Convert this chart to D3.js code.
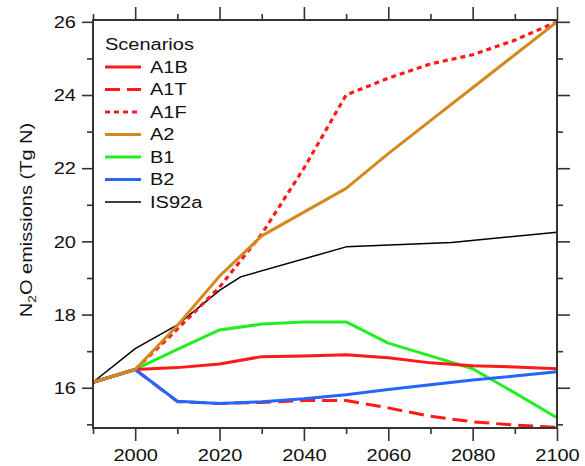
<!DOCTYPE html>
<html>
<head>
<meta charset="utf-8">
<script src="https://cdn.jsdelivr.net/npm/d3@7"></script>
<style>
body { margin: 0; background: #fff; }
svg { display: block; }
text { font-family: "Liberation Sans", Arial, Helvetica, sans-serif; fill: #111; }
</style>
</head>
<body>
<svg id="chart" width="585" height="466"></svg>
<script>
// ---- data ----
const years = [1990, 2000, 2010, 2020, 2030, 2040, 2050, 2060, 2070, 2080, 2090, 2100];
const A1B = [16.15, 16.5, 16.55, 16.65, 16.85, 16.87, 16.9, 16.82, 16.68, 16.6, 16.57, 16.52];
const A1T = [16.15, 16.5, 15.62, 15.57, 15.6, 15.65, 15.65, 15.45, 15.22, 15.07, 14.98, 14.92];
const A1F = [16.15, 16.5, 17.6, 18.75, 20.2, 22.0, 24.0, 24.46, 24.85, 25.1, 25.5, 26.0];
const A2  = [16.15, 16.5, 17.7, 19.05, 20.15, 20.8, 21.45, 22.4, 23.3, 24.2, 25.1, 26.0];
const B1  = [16.15, 16.5, 17.05, 17.58, 17.74, 17.8, 17.8, 17.22, 16.87, 16.52, 15.86, 15.18];
const B2  = [16.15, 16.5, 15.63, 15.57, 15.62, 15.7, 15.81, 15.95, 16.08, 16.21, 16.32, 16.44];
const isYears = [1990, 2000, 2010, 2020, 2025, 2050, 2075, 2100];
const IS92a = [16.15, 17.07, 17.72, 18.66, 19.03, 19.85, 19.97, 20.25];

const seriesNames = ["A1B", "A1T", "A1F", "A2", "B1", "B2", "IS92a"];
const seriesColors = ["#ff1a1a", "#ff1a1a", "#ff1a1a", "#d4891e", "#22ee22", "#2266ff", "#000000"];
const seriesDash = [null, "15,7", "5,4", null, null, null, null];
const seriesWidth = [3, 3, 3.2, 3, 3, 3, 1.5];
const seriesYears = [years, years, years, years, years, years, isYears];
const seriesValues = [A1B, A1T, A1F, A2, B1, B2, IS92a];

const xMajor = [2000, 2020, 2040, 2060, 2080, 2100];
const xMinor = [1990, 2010, 2030, 2050, 2070, 2090];
const yMajor = [16, 18, 20, 22, 24, 26];
const yMinor = [15, 17, 19, 21, 23, 25];
const legendTitle = "Scenarios";

// ---- layout ----
const L = 93, R = 557, T = 20, B = 428;
const SX = 1.25; // horizontal text stretch
const svg = d3.select("#chart");
const x = d3.scaleLinear().domain([1990, 2100]).range([L, R]);
const y = d3.scaleLinear().domain([14.9, 26.05]).range([B, T]);

// plot lines
const line = d3.line().x(d => x(d[0])).y(d => y(d[1]));
const order = [6, 4, 0, 1, 5, 2, 3];
order.forEach(i => {
  const pts = seriesYears[i].map((yr, j) => [yr, seriesValues[i][j]]);
  svg.append("path")
    .datum(pts)
    .attr("d", line)
    .attr("fill", "none")
    .attr("stroke", seriesColors[i])
    .attr("stroke-width", seriesWidth[i])
    .attr("stroke-dasharray", seriesDash[i])
    .attr("stroke-linejoin", "round");
});

// axes
const axisColor = "#333";
function styleAxis(g) {
  g.select(".domain").remove();
  g.selectAll("line").attr("stroke", axisColor).attr("stroke-width", 1.6);
}
// minor ticks (all sides)
svg.append("g").attr("transform", `translate(0,${B})`)
  .call(d3.axisBottom(x).tickValues(xMinor).tickSize(6).tickFormat(""))
  .call(styleAxis);
svg.append("g").attr("transform", `translate(0,${T})`)
  .call(d3.axisTop(x).tickValues(xMinor).tickSize(6).tickFormat(""))
  .call(styleAxis);
svg.append("g").attr("transform", `translate(${L},0)`)
  .call(d3.axisLeft(y).tickValues(yMinor).tickSize(6).tickFormat(""))
  .call(styleAxis);
svg.append("g").attr("transform", `translate(${R},0)`)
  .call(d3.axisRight(y).tickValues(yMinor).tickSize(6).tickFormat(""))
  .call(styleAxis);
// major ticks
svg.append("g").attr("transform", `translate(0,${T})`)
  .call(d3.axisTop(x).tickValues(xMajor).tickSize(13).tickFormat(""))
  .call(styleAxis);
svg.append("g").attr("transform", `translate(${R},0)`)
  .call(d3.axisRight(y).tickValues(yMajor).tickSize(13).tickFormat(""))
  .call(styleAxis);
const gx = svg.append("g").attr("transform", `translate(0,${B})`)
  .call(d3.axisBottom(x).tickValues(xMajor).tickSize(13).tickFormat(d3.format("d")))
  .call(styleAxis);
gx.selectAll("text")
  .attr("font-size", 16).attr("fill", "#111")
  .attr("y", 33).attr("dy", 0)
  .attr("transform", `scale(${SX},1)`);
const gy = svg.append("g").attr("transform", `translate(${L},0)`)
  .call(d3.axisLeft(y).tickValues(yMajor).tickSize(11).tickFormat(d3.format("d")))
  .call(styleAxis);
gy.selectAll("text")
  .attr("font-size", 16).attr("fill", "#111")
  .attr("x", -17 / SX).attr("dy", "0.36em")
  .attr("transform", `scale(${SX},1)`);

// frame
svg.append("rect")
  .attr("x", L).attr("y", T).attr("width", R - L).attr("height", B - T)
  .attr("fill", "none").attr("stroke", axisColor).attr("stroke-width", 2);

// y label
const yl = svg.append("text")
  .attr("transform", `translate(32,220) rotate(-90) scale(${SX},1)`)
  .attr("text-anchor", "middle")
  .attr("font-size", 16);
yl.append("tspan").text("N");
yl.append("tspan").attr("font-size", 11).attr("dy", 4).text("2");
yl.append("tspan").attr("dy", -4).text("O emissions (Tg N)");

// legend
svg.append("text")
  .attr("transform", `translate(105,44) scale(${SX},1)`)
  .attr("dy", "0.36em").attr("font-size", 16)
  .text(legendTitle);
seriesNames.forEach((name, i) => {
  const ly = 67 + i * 22.5;
  svg.append("line")
    .attr("x1", 105).attr("x2", 141).attr("y1", ly).attr("y2", ly)
    .attr("stroke", seriesColors[i])
    .attr("stroke-width", seriesWidth[i])
    .attr("stroke-dasharray", seriesDash[i]);
  svg.append("text")
    .attr("transform", `translate(150,${ly}) scale(${SX},1)`)
    .attr("dy", "0.36em").attr("font-size", 16)
    .text(name);
});
</script>
</body>
</html>
